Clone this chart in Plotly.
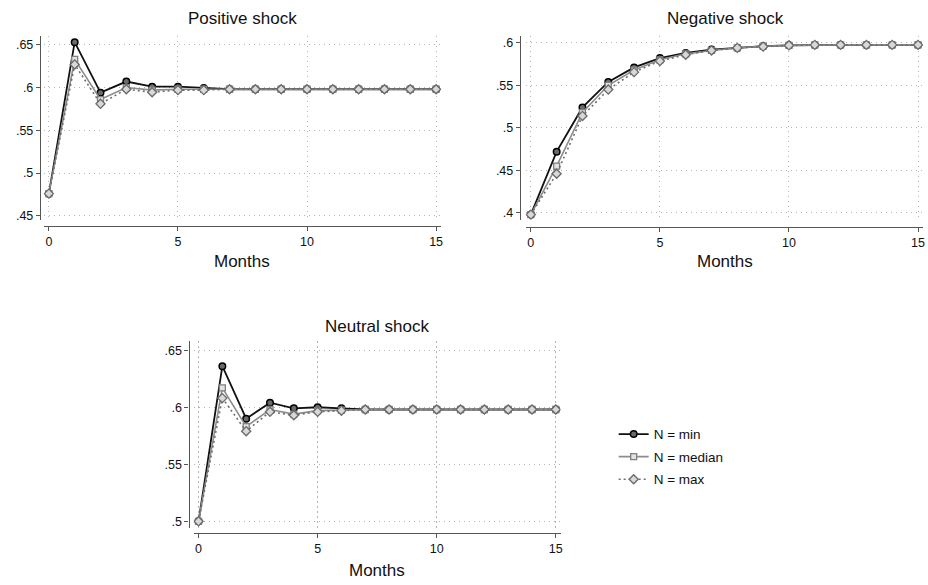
import plotly.graph_objects as go

months = list(range(16))

# Positive shock
pos_min = [0.476, 0.653, 0.594, 0.607, 0.601, 0.601, 0.5995, 0.598, 0.598, 0.598, 0.598, 0.598, 0.598, 0.598, 0.598, 0.598]
pos_med = [0.476, 0.633, 0.586, 0.600, 0.597, 0.598, 0.598, 0.598, 0.598, 0.598, 0.598, 0.598, 0.598, 0.598, 0.598, 0.598]
pos_max = [0.476, 0.627, 0.581, 0.598, 0.5945, 0.597, 0.597, 0.598, 0.598, 0.598, 0.598, 0.598, 0.598, 0.598, 0.598, 0.598]

# Negative shock
neg_min = [0.398, 0.472, 0.524, 0.554, 0.571, 0.582, 0.588, 0.592, 0.594, 0.596, 0.597, 0.5975, 0.5975, 0.5975, 0.5975, 0.5975]
neg_med = [0.398, 0.455, 0.518, 0.550, 0.568, 0.580, 0.587, 0.591, 0.594, 0.596, 0.597, 0.5975, 0.5975, 0.5975, 0.5975, 0.5975]
neg_max = [0.398, 0.446, 0.514, 0.545, 0.5655, 0.5785, 0.586, 0.591, 0.594, 0.5955, 0.597, 0.5975, 0.5975, 0.5975, 0.5975, 0.5975]

# Neutral shock
neu_min = [0.500, 0.636, 0.590, 0.604, 0.599, 0.600, 0.599, 0.598, 0.598, 0.598, 0.598, 0.598, 0.598, 0.598, 0.598, 0.598]
neu_med = [0.500, 0.617, 0.583, 0.598, 0.594, 0.597, 0.5975, 0.598, 0.598, 0.598, 0.598, 0.598, 0.598, 0.598, 0.598, 0.598]
neu_max = [0.500, 0.608, 0.579, 0.596, 0.593, 0.596, 0.597, 0.598, 0.598, 0.598, 0.598, 0.598, 0.598, 0.598, 0.598, 0.598]

series_names = ["N = min", "N = median", "N = max"]
panel_titles = ["Positive shock", "Negative shock", "Neutral shock"]
x_label = "Months"

x_tickvals = [0, 5, 10, 15]
x_ticktext = ["0", "5", "10", "15"]
pos_yvals = [0.45, 0.5, 0.55, 0.6, 0.65]
pos_ytext = [".45", ".5", ".55", ".6", ".65"]
neg_yvals = [0.4, 0.45, 0.5, 0.55, 0.6]
neg_ytext = [".4", ".45", ".5", ".55", ".6"]
neu_yvals = [0.5, 0.55, 0.6, 0.65]
neu_ytext = [".5", ".55", ".6", ".65"]

W, H = 928, 585
FONT = "Liberation Sans, Arial, sans-serif"

styles = [
    dict(line=dict(color="#111111", width=1.8),
         marker=dict(symbol="circle", size=6.5, color="#6a6a6a", line=dict(color="#000000", width=1.5))),
    dict(line=dict(color="#8c8c8c", width=1.6),
         marker=dict(symbol="square", size=6, color="#e2e2e2", line=dict(color="#808080", width=1.3))),
    dict(line=dict(color="#6e6e6e", width=1.6, dash="2px,3px"),
         marker=dict(symbol="diamond", size=7, color="#d8d8d8", line=dict(color="#6a6a6a", width=1.3))),
]

panels = [
    dict(data=[pos_min, pos_med, pos_max], yvals=pos_yvals, ytext=pos_ytext,
         px=(43.8, 442.2), py=(36, 221), yref=(0.65, 45, 0.05 / 43), yaxis_x=40, xaxis_y=227,
         title_xy=(243, 19), label_xy=(243, 263)),
    dict(data=[neg_min, neg_med, neg_max], yvals=neg_yvals, ytext=neg_ytext,
         px=(526.8, 925.2), py=(36, 221), yref=(0.6, 43, 0.2 / 171), yaxis_x=521, xaxis_y=228,
         title_xy=(727, 19), label_xy=(727, 263)),
    dict(data=[neu_min, neu_med, neu_max], yvals=neu_yvals, ytext=neu_ytext,
         px=(194.2, 561.8), py=(343, 531), yref=(0.65, 352, 0.15 / 172), yaxis_x=189, xaxis_y=536,
         title_xy=(378, 328), label_xy=(378, 573)),
]

fig = go.Figure()
annotations = []
layout_axes = {}
for i, p in enumerate(panels):
    n = i + 1
    xa = "x" if n == 1 else f"x{n}"
    ya = "y" if n == 1 else f"y{n}"
    for j, (vals, name) in enumerate(zip(p["data"], series_names)):
        fig.add_trace(go.Scatter(
            x=months, y=vals, name=name, mode="lines+markers",
            xaxis=xa, yaxis=ya, legendgroup=name, showlegend=(n == 1),
            line=styles[j]["line"], marker=styles[j]["marker"],
        ))
    v0, p0, per = p["yref"]
    ytop = v0 + (p0 - p["py"][0]) * per
    ybot = v0 - (p["py"][1] - p0) * per
    xkey = "xaxis" if n == 1 else f"xaxis{n}"
    ykey = "yaxis" if n == 1 else f"yaxis{n}"
    common = dict(
        showline=True, linecolor="#555555", linewidth=1.2,
        ticks="outside", ticklen=4, tickcolor="#555555", tickwidth=1.2,
        tickfont=dict(size=12.5, color="#111111", family=FONT),
        showgrid=True, gridcolor="#b4b4b4", griddash="1.5px,3.5px", gridwidth=1.2,
        zeroline=False, fixedrange=True,
    )
    layout_axes[xkey] = dict(
        domain=[p["px"][0] / W, p["px"][1] / W], range=[-0.2, 15.2],
        anchor="free", position=1 - p["xaxis_y"] / H,
        tickvals=x_tickvals, ticktext=x_ticktext, **common,
    )
    layout_axes[ykey] = dict(
        domain=[1 - p["py"][1] / H, 1 - p["py"][0] / H], range=[ybot, ytop],
        anchor="free", position=p["yaxis_x"] / W,
        tickvals=p["yvals"], ticktext=p["ytext"], **common,
    )
    annotations.append(dict(text=panel_titles[i], x=p["title_xy"][0] / W, y=1 - p["title_xy"][1] / H,
                            xref="paper", yref="paper", showarrow=False, xanchor="center", yanchor="middle",
                            font=dict(size=17, color="#111111", family=FONT)))
    annotations.append(dict(text=x_label, x=p["label_xy"][0] / W, y=1 - p["label_xy"][1] / H,
                            xref="paper", yref="paper", showarrow=False, xanchor="center", yanchor="middle",
                            font=dict(size=17, color="#111111", family=FONT)))

fig.update_layout(
    width=W, height=H,
    margin=dict(l=0, r=0, t=0, b=0),
    paper_bgcolor="white", plot_bgcolor="white",
    font=dict(family=FONT, color="#111111"),
    annotations=annotations,
    legend=dict(x=615 / W, y=1 - 421 / H, xanchor="left", yanchor="top",
                font=dict(size=13.5, color="#111111", family=FONT),
                itemwidth=30, tracegroupgap=2, bgcolor="rgba(0,0,0,0)"),
    **layout_axes,
)

fig.write_html("out.html")
